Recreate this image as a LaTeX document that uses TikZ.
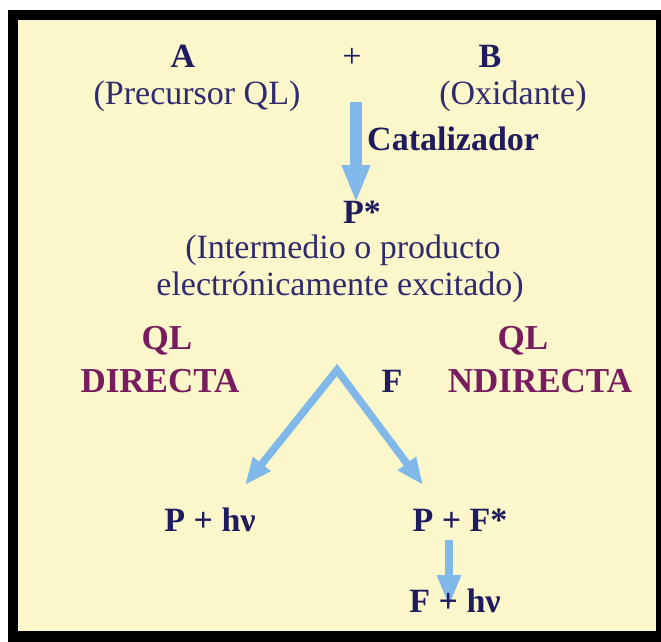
\documentclass[tikz,border=0pt]{standalone}
\usepackage{fontspec}
\setmainfont{Liberation Serif}
\usetikzlibrary{arrows.meta}
\definecolor{bg}{RGB}{252,247,202}
\definecolor{navy}{RGB}{30,28,95}
\definecolor{txt}{RGB}{45,42,110}
\definecolor{purp}{RGB}{120,28,95}
\definecolor{arr}{RGB}{128,184,234}
\begin{document}
\begin{tikzpicture}[x=1pt,y=-1pt,
  lbl/.style={inner sep=0pt, anchor=base, font=\fontsize{34}{38}\selectfont, text=txt},
  blbl/.style={lbl, font=\fontsize{34}{38}\selectfont\bfseries, text=navy},
  plbl/.style={blbl, font=\fontsize{35}{39}\selectfont\bfseries, text=purp},
  fatarrow/.style={draw=arr, line width=12pt, -{Triangle[width=26pt,length=38pt]}},
  midarrow/.style={draw=arr, line width=7.5pt, line join=miter,
     {Triangle[width=21pt,length=27pt]}-{Triangle[width=21pt,length=27pt]}},
  smallarrow/.style={draw=arr, line width=8pt, -{Triangle[width=22pt,length=32pt]}}
]
\useasboundingbox (0,0) rectangle (661,642);
\fill[white] (0,0) rectangle (661,642);
\fill[black] (8,10) rectangle (661,642);
\fill[bg] (18,20) rectangle (656,631);

% arrows (behind text)
\coordinate (a1s) at (356,102);
\coordinate (a1e) at (356,203);
\draw[fatarrow] (a1s) -- (a1e);
\coordinate (apex) at (337,370);
\coordinate (tipL) at (245,485);
\coordinate (tipR) at (423,485);
\draw[midarrow] (tipL) -- (apex) -- (tipR);
\coordinate (a3s) at (449,540);
\coordinate (a3e) at (449,607);
\draw[smallarrow] (a3s) -- (a3e);

% texts
\node[blbl] (A) at (183,67) {A};
\node[lbl, text=navy] (plus) at (352,67) {+};
\node[blbl] (B) at (490,67) {B};
\node[lbl] (prec) at (197,104) {(Precursor QL)};
\node[lbl] (oxid) at (513,104) {(Oxidante)};
\node[blbl, anchor=base west] (cat) at (367,150) {Catalizador};
\node[blbl] (pstar) at (362,223) {P*};
\node[lbl] (int1) at (343,258) {(Intermedio o producto};
\node[lbl] (int2) at (340,295) {electrónicamente excitado)};
\node[plbl] (ql1) at (167,349) {QL};
\node[plbl] (dir) at (160,392) {DIRECTA};
\node[plbl] (ql2) at (523,349) {QL};
\node[plbl] (ind) at (540,392) {NDIRECTA};
\node[blbl] (F) at (392,392) {F};
\node[blbl] (php) at (210,531) {P + hν};
\node[blbl] (ppf) at (460,531) {P + F*};
\node[blbl] (fhv) at (455,612) {F + hν};
\end{tikzpicture}
\end{document}
